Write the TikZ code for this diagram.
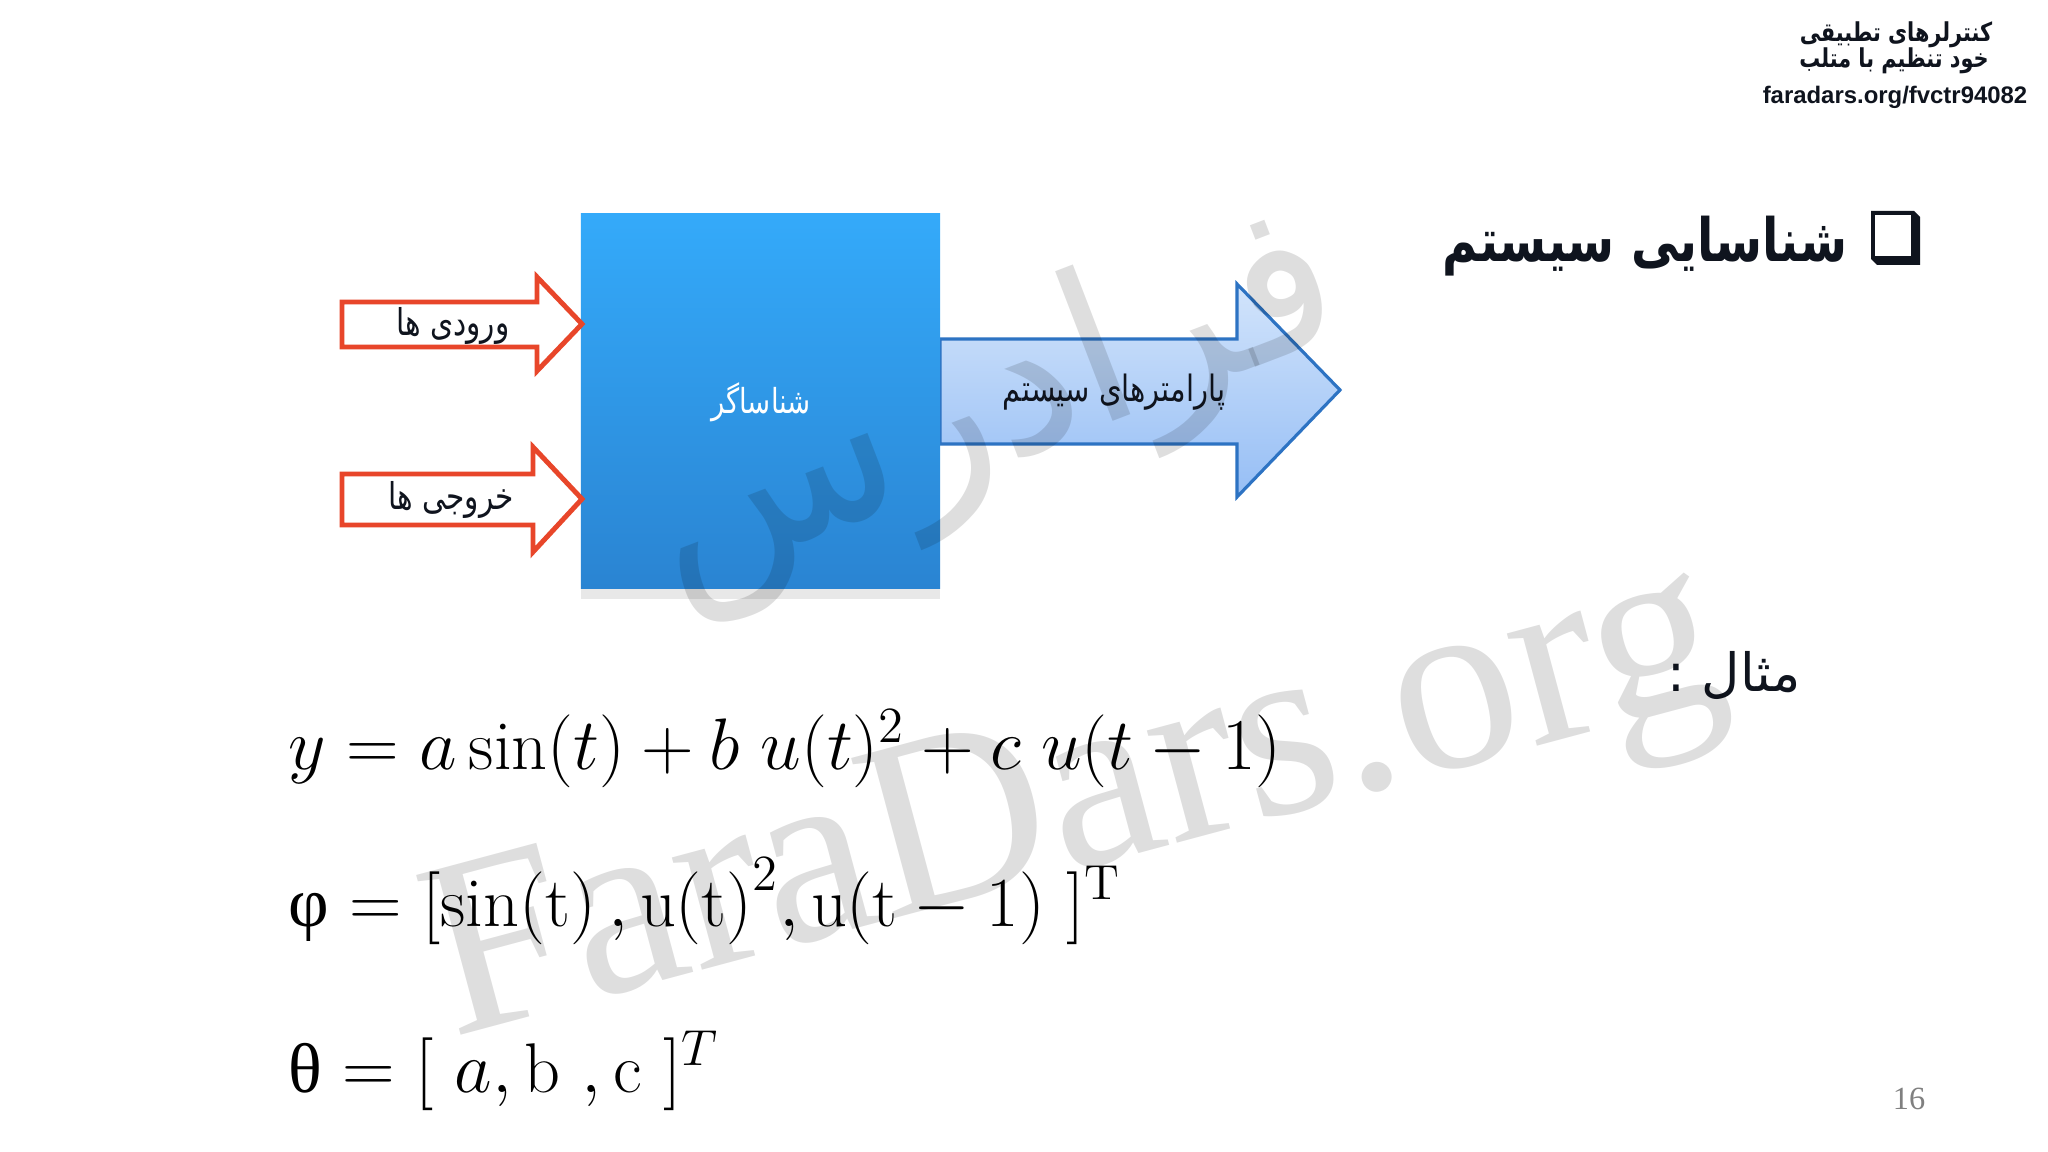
\documentclass[tikz,border=0pt]{standalone}
\usepackage{amsmath}
\usepackage{graphicx}
\usepackage{fontspec}
\usetikzlibrary{shadows}
\TeXXeTstate=1
\newfontfamily\fafont[Script=Arabic]{DejaVu Sans}
\newfontfamily\urlfont{Liberation Sans}
\newfontfamily\numfont{Liberation Serif}
\newcommand{\fatxt}[1]{\scalebox{0.8}[1]{\beginR #1\endR}}
\definecolor{boxtop}{RGB}{52,170,250}
\definecolor{boxbot}{RGB}{42,132,210}
\definecolor{arrtop}{RGB}{210,228,251}
\definecolor{arrbot}{RGB}{150,190,245}
\definecolor{arrline}{RGB}{45,115,195}
\definecolor{redline}{RGB}{232,70,42}
\definecolor{ink}{RGB}{15,20,30}
\tikzset{%
    redarrow/.style={draw=redline, line width=1.4pt, fill=white, line join=miter},
    bluearrow/.style={draw=arrline, line width=0.9pt, top color=arrtop, bottom color=arrbot},
    falabel/.style={font=\fafont\fontsize{10.5}{12}\selectfont, text=ink, inner sep=0pt},
    eqline/.style={anchor=base west, inner sep=0pt, font=\fontsize{20}{24}\selectfont},
    watermark/.style={text=black, opacity=0.13, inner sep=0pt}
}

\begin{document}
\begin{tikzpicture}[x=0.01cm,y=-0.01cm]
    \useasboundingbox (0,0) rectangle (2048,1152);
    \fill[white] (0,0) rectangle (2048,1152);

    % header
    \node[falabel, font=\fafont\bfseries\fontsize{7.4}{9}\selectfont] (hdra) at (1896,35) {\fatxt{کنترلرهای تطبیقی}};
    \node[falabel, font=\fafont\bfseries\fontsize{7.4}{9}\selectfont] (hdrb) at (1894,61) {\fatxt{خود تنظیم با متلب}};
    \node[inner sep=0pt, text=ink, font=\urlfont\bfseries\fontsize{6.8}{8}\selectfont] (url) at (1895,97) {faradars.org/fvctr94082};

    % title with box bullet
    \fill[ink] (1871,211) -- (1914,211) -- (1920,217) -- (1920,265) -- (1877,265) -- (1871,259) -- cycle;
    \fill[white] (1875,215) rectangle (1911,256);
    \node[falabel, anchor=base east, font=\fafont\bfseries\fontsize{17}{20}\selectfont] (title) at (1848,262) {\fatxt{شناسایی سیستم}};

    % block diagram
    \draw[bluearrow] (940,339) -- (1237,339) -- (1237,284) -- (1340,390) -- (1237,497) -- (1237,444) -- (940,444) -- cycle;
    \node[minimum width=3.59cm, minimum height=3.74cm, top color=boxtop, bottom color=boxbot,
          drop shadow={opacity=0.18, shadow xshift=0pt, shadow yshift=-3pt}] (ident) at (760.5,401) {};
    \node[falabel, text=white, font=\fafont\fontsize{9.8}{12}\selectfont] (identlbl) at (761,402) {\fatxt{شناساگر}};
    \draw[redarrow] (342,302) -- (537,302) -- (537,277) -- (582,324) -- (537,371) -- (537,347) -- (342,347) -- cycle;
    \draw[redarrow] (342,474) -- (533,474) -- (533,447) -- (582,499) -- (533,552) -- (533,525) -- (342,525) -- cycle;
    \node[falabel] (inlbl) at (453,326) {\fatxt{ورودی ها}};
    \node[falabel] (outlbl) at (451,500) {\fatxt{خروجی ها}};
    \node[falabel, font=\fafont\fontsize{10.3}{12}\selectfont] (parlbl) at (1114,392) {\fatxt{پارامترهای سیستم}};

    % example
    \node[falabel, font=\fafont\fontsize{15}{18}\selectfont] (exlbl) at (1734,675) {\beginR مثال :\endR};
    \node[eqline] (eqy) at (288,769) {$y = a\sin(t) + b\;u(t)^2 + c\;u(t-1)$};
    \node[eqline] (eqphi) at (288,926) {$\text{\numfont φ} = [\mathrm{sin(t)}\,,\mathrm{u(t)}^2,\mathrm{u(t-1)}\ ]^{\mathrm{T}}$};
    \node[eqline] (eqtheta) at (288,1092) {$\text{\numfont θ} = [\ a,\mathrm{b}\ ,\mathrm{c}\ ]^T$};

    % page number
    \node[inner sep=0pt, text=black!50, font=\numfont\fontsize{9.2}{11}\selectfont] (pgno) at (1909,1099) {16};

    % watermarks
    \node[watermark, rotate=15, font=\numfont\fontsize{72}{72}\selectfont] (wmlatin) at (1078,812) {FaraDars.org};
    \node[watermark, rotate=21, font=\fafont\fontsize{60}{60}\selectfont] (wmfa) at (992,410) {\beginR فرادرس\endR};
\end{tikzpicture}
\end{document}
